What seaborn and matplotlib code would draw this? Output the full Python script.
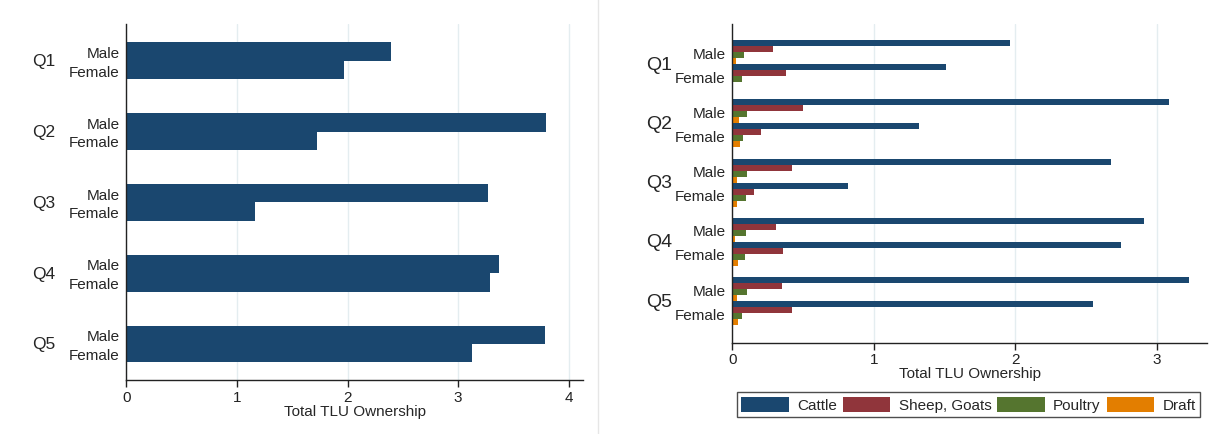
import numpy as np
import pandas as pd
import matplotlib
matplotlib.use('Agg')
import matplotlib.pyplot as plt
from matplotlib.lines import Line2D
from matplotlib.patches import Patch
import seaborn as sns

# data
quintiles = ['Q1', 'Q2', 'Q3', 'Q4', 'Q5']
sexes = ['Male', 'Female']
total_male = [2.39, 3.80, 3.27, 3.37, 3.79]
total_female = [1.97, 1.72, 1.16, 3.29, 3.13]

livestock = ['Cattle', 'Sheep, Goats', 'Poultry', 'Draft']
cattle_male = [1.96, 3.09, 2.68, 2.91, 3.23]
cattle_female = [1.51, 1.32, 0.82, 2.75, 2.55]
sheep_male = [0.29, 0.50, 0.42, 0.31, 0.35]
sheep_female = [0.38, 0.20, 0.15, 0.36, 0.42]
poultry_male = [0.085, 0.10, 0.10, 0.094, 0.106]
poultry_female = [0.071, 0.075, 0.094, 0.087, 0.071]
draft_male = [0.026, 0.047, 0.03, 0.021, 0.035]
draft_female = [0.007, 0.057, 0.03, 0.042, 0.042]

colors = ['#1a476f', '#90353b', '#55752f', '#e37e00']

sns.set_theme(style='white')
plt.rcParams['font.family'] = ['Liberation Sans', 'DejaVu Sans']
plt.rcParams['axes.edgecolor'] = '#222222'
plt.rcParams['xtick.color'] = '#222222'

# long tables
left_off = {'Male': -0.13, 'Female': 0.13}
rows = []
for i, q in enumerate(quintiles):
    rows.append({'Quintile': q, 'Sex': 'Male', 'pos': i + left_off['Male'], 'value': total_male[i]})
    rows.append({'Quintile': q, 'Sex': 'Female', 'pos': i + left_off['Female'], 'value': total_female[i]})
df_total = pd.DataFrame(rows)

right_off = {'Male': -0.2025, 'Female': 0.2025}
by_sex = {
    'Male': [cattle_male, sheep_male, poultry_male, draft_male],
    'Female': [cattle_female, sheep_female, poultry_female, draft_female],
}
rows = []
for i, q in enumerate(quintiles):
    for s in sexes:
        for k, lv in enumerate(livestock):
            rows.append({'Quintile': q, 'Sex': s, 'pos': i + right_off[s],
                         'Type': lv, 'value': by_sex[s][k][i]})
df_type = pd.DataFrame(rows)

fig = plt.figure(figsize=(12.16, 4.35), dpi=100)
ax1 = fig.add_axes([0.104, 0.124, 0.3754, 0.8185])
ax2 = fig.add_axes([0.6023, 0.2103, 0.3907, 0.7322])

# left panel: total TLU
sns.barplot(data=df_total, x='value', y='pos', orient='h', native_scale=True,
            width=1.0, color=colors[0], saturation=1, errorbar=None,
            linewidth=0, ax=ax1)

# right panel: TLU by livestock type
sns.barplot(data=df_type, x='value', y='pos', hue='Type', hue_order=livestock,
            orient='h', native_scale=True, width=1.0, dodge=True,
            palette=colors, saturation=1, errorbar=None, linewidth=0,
            legend=False, ax=ax2)


def style_axis(ax, offsets, xmax, xticks, ylim, qx, qsize):
    ax.set_xlim(0, xmax)
    ax.set_ylim(*ylim)
    ax.set_xticks(xticks)
    ax.set_xticklabels([str(t) for t in xticks], fontsize=11)
    ax.xaxis.grid(True, color='#e4edf0', linewidth=1)
    ax.yaxis.grid(False)
    ax.set_axisbelow(True)
    ypos, ylab = [], []
    for i in range(len(quintiles)):
        for s in sexes:
            ypos.append(i + offsets[s])
            ylab.append(s)
    ax.set_yticks(ypos)
    ax.set_yticklabels(ylab, fontsize=11)
    ax.tick_params(axis='y', length=0, pad=5)
    ax.tick_params(axis='x', length=5, width=1, pad=2, direction='out', bottom=True)
    for sp in ['top', 'right']:
        ax.spines[sp].set_visible(False)
    for sp in ['left', 'bottom']:
        ax.spines[sp].set_linewidth(1)
        ax.spines[sp].set_zorder(5)
    ax.set_ylabel('')
    ax.set_xlabel('Total TLU Ownership', fontsize=11, labelpad=0)
    tr = matplotlib.transforms.blended_transform_factory(ax.transAxes, ax.transData)
    for i, q in enumerate(quintiles):
        ax.text(qx, i, q, transform=tr, ha='center', va='center', fontsize=qsize)


style_axis(ax1, left_off, 4.13, [0, 1, 2, 3, 4], (4.51, -0.52), -0.182, 12.5)
style_axis(ax2, right_off, 3.36, [0, 1, 2, 3], (4.70, -0.676), -0.154, 14)

# legend
handles = [Patch(facecolor=c, edgecolor='none') for c in colors]
fig.legend(handles, livestock, loc='lower left', ncol=4, mode='expand',
           bbox_to_anchor=(0.606, 0.039, 0.381, 0.062), fontsize=11,
           frameon=True, fancybox=False, edgecolor='#222222',
           handlelength=3.1, handleheight=1.15, handletextpad=0.55,
           columnspacing=0.9, borderpad=0.3, borderaxespad=0)
fig.legends[0].get_frame().set_linewidth(1)

# faint separator between panels
fig.add_artist(Line2D([0.4918, 0.4918], [0, 1], transform=fig.transFigure,
                      color='#e6e6e6', linewidth=1))

fig.savefig('out.png', dpi=100)
plt.close(fig)
